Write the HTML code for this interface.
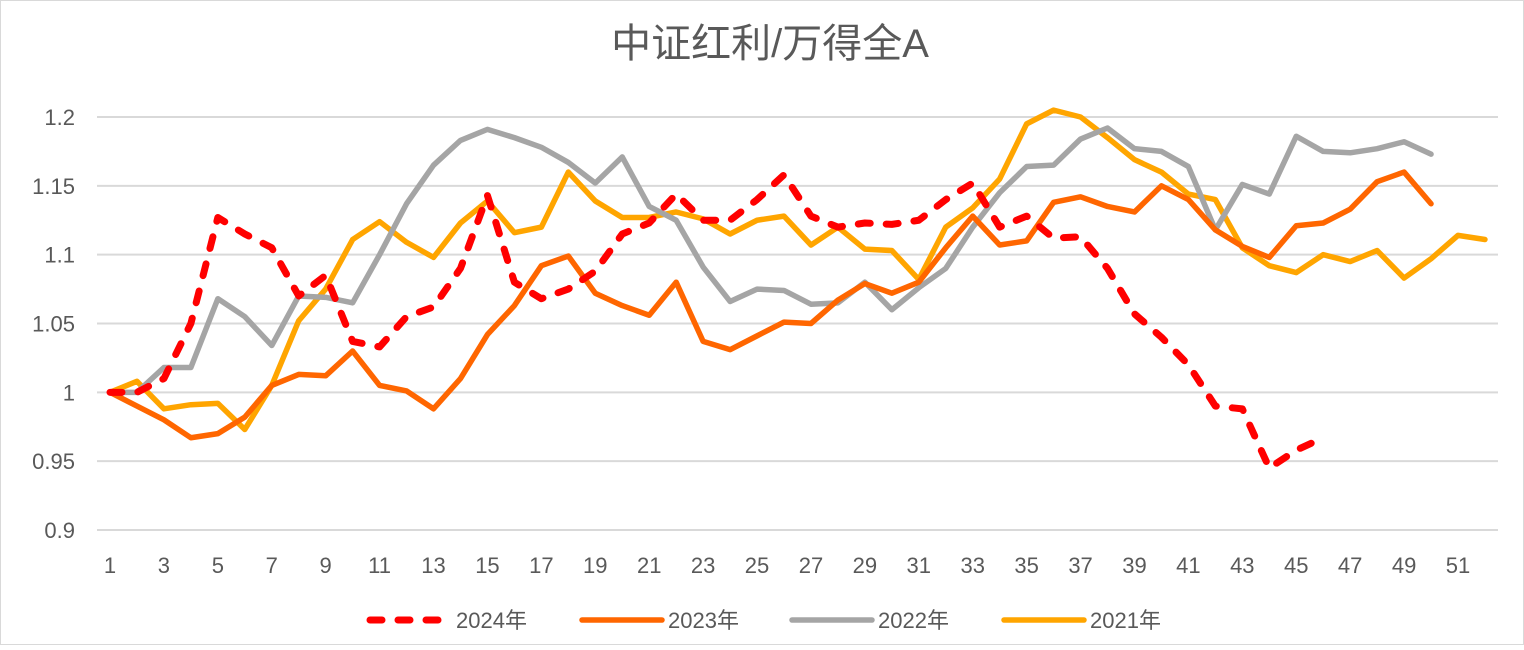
<!DOCTYPE html>
<html><head><meta charset="utf-8"><style>
body{margin:0;background:#fff;}
svg text{font-family:"Liberation Sans","Noto Sans CJK SC",sans-serif;}
</style></head><body>
<svg width="1524" height="645" xmlns="http://www.w3.org/2000/svg">
<rect x="0.5" y="0.5" width="1523" height="644" fill="#fff" stroke="#d9d9d9"/>
<text x="770" y="57" font-size="40" fill="#595959" text-anchor="middle">中证红利/万得全A</text>
<g id="grid"></g><g id="ylab"></g><g id="xlab"></g><g id="lines"></g><g id="legend"></g>
</svg>
<script>
const yTicks=[0.9,0.95,1,1.05,1.1,1.15,1.2];
const yTickLabels=["0.9","0.95","1","1.05","1.1","1.15","1.2"];
const xTickLabels=[1,3,5,7,9,11,13,15,17,19,21,23,25,27,29,31,33,35,37,39,41,43,45,47,49,51];
const s2024=[1.0,1.0,1.01,1.05,1.127,1.115,1.105,1.07,1.085,1.037,1.033,1.055,1.062,1.09,1.143,1.08,1.068,1.075,1.088,1.115,1.123,1.144,1.125,1.125,1.14,1.158,1.128,1.12,1.123,1.122,1.125,1.14,1.152,1.12,1.128,1.112,1.113,1.09,1.057,1.04,1.02,0.99,0.988,0.945,0.958,0.967];
const s2023=[1.0,0.99,0.98,0.967,0.97,0.982,1.005,1.013,1.012,1.03,1.005,1.001,0.988,1.01,1.042,1.063,1.092,1.099,1.072,1.063,1.056,1.08,1.037,1.031,1.041,1.051,1.05,1.067,1.079,1.072,1.08,1.105,1.128,1.107,1.11,1.138,1.142,1.135,1.131,1.15,1.14,1.118,1.106,1.098,1.121,1.123,1.133,1.153,1.16,1.137];
const s2022=[1.0,1.0,1.018,1.018,1.068,1.055,1.034,1.07,1.069,1.065,1.1,1.137,1.165,1.183,1.191,1.185,1.178,1.167,1.152,1.171,1.135,1.125,1.091,1.066,1.075,1.074,1.064,1.065,1.08,1.06,1.076,1.09,1.12,1.145,1.164,1.165,1.184,1.192,1.177,1.175,1.164,1.118,1.151,1.144,1.186,1.175,1.174,1.177,1.182,1.173];
const s2021=[1.0,1.008,0.988,0.991,0.992,0.973,1.005,1.052,1.075,1.111,1.124,1.109,1.098,1.123,1.139,1.116,1.12,1.16,1.139,1.127,1.127,1.131,1.126,1.115,1.125,1.128,1.107,1.12,1.104,1.103,1.082,1.12,1.134,1.155,1.195,1.205,1.2,1.185,1.169,1.16,1.144,1.14,1.105,1.092,1.087,1.1,1.095,1.103,1.083,1.097,1.114,1.111];
const seriesNames=["2024年","2023年","2022年","2021年"];
const NS="http://www.w3.org/2000/svg";
const X=i=>110+(i-1)*26.96;
const Y=v=>117+(1.2-v)/0.05*68.83;
function mk(t,a,p){const e=document.createElementNS(NS,t);for(const k in a)e.setAttribute(k,a[k]);document.getElementById(p).appendChild(e);return e;}
yTicks.forEach((v,i)=>{
 const l=mk('line',{x1:97,x2:1498,y1:Y(v),y2:Y(v),stroke:'#d9d9d9','stroke-width':2},'grid');
 
 
 const t=mk('text',{x:75,y:Y(v)+8,'font-size':22,fill:'#595959','text-anchor':'end'},'ylab');
 t.textContent=yTickLabels[i];
 
 
});
xTickLabels.forEach(n=>{
 const t=mk('text',{x:X(n),y:573,'font-size':22,fill:'#595959','text-anchor':'middle'},'xlab');
 t.textContent=n;
 
 
});
const styles=[{c:'#ff0000',d:'12 16',data:s2024},{c:'#ff6600',d:'',data:s2023},{c:'#a5a5a5',d:'',data:s2022},{c:'#ffa500',d:'',data:s2021}];
[3,2,1,0].forEach(k=>{
 const s=styles[k];
 const p=mk('polyline',{points:s.data.map((v,i)=>X(i+1)+','+Y(v)).join(' '),fill:'none',stroke:s.c,'stroke-width':k==0?7:5.5,'stroke-linejoin':'round','stroke-linecap':'round'},'lines');
 if(s.d)p.setAttribute('stroke-dasharray',s.d);
 
 
});
const lx=[370,582,792,1004];
styles.forEach((s,k)=>{
 const l=mk('line',{x1:lx[k],x2:lx[k]+80,y1:620,y2:620,stroke:s.c,'stroke-width':k==0?7:5.5,'stroke-linecap':'round'},'legend');
 if(s.d)l.setAttribute('stroke-dasharray','12 16');
 
 
 const t=mk('text',{x:lx[k]+86,y:628,'font-size':22,fill:'#595959'},'legend');
 t.textContent=seriesNames[k];
 
 
});
</script>
</body></html>
